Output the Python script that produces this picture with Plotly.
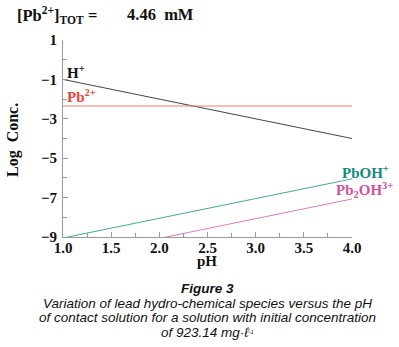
import plotly.graph_objects as go

# Data
ph = [1.0, 4.0]
log_h = [-1.0, -4.0]
log_pb = [-2.35, -2.35]
log_pboh = [-9.05, -6.05]
log_pb2oh = [-10.07, -7.07]

series_names = ["H<sup>+</sup>", "Pb<sup>2+</sup>", "PbOH<sup>+</sup>", "Pb<sub>2</sub>OH<sup>3+</sup>"]
x_ticks = [1.0, 1.5, 2.0, 2.5, 3.0, 3.5, 4.0]
y_ticks = [1, -1, -3, -5, -7, -9]

SERIF = "Liberation Serif"
SANS = "Liberation Sans"

line_colors = ["#444444", "#f07a6a", "#40aa9a", "#e27ab8"]
label_colors = ["#111111", "#f0403a", "#128a80", "#d4509c"]

PL, PR, PT, PB = 63, 352, 40, 237  # plot box in page pixels
W, H = 399, 347


def px_x(p):
    return (p - PL) / (PR - PL)


def px_y(p):
    return (PB - p) / (PB - PT)


fig = go.Figure()
for yv, c in zip([log_h, log_pb, log_pboh, log_pb2oh], line_colors):
    fig.add_trace(go.Scatter(x=ph, y=yv, mode="lines",
                             line=dict(color=c, width=1), showlegend=False,
                             hoverinfo="skip"))

# Series labels (paper coordinates so labels beyond the axis end still show)
label_pos = [(65, 72, "left"), (65, 96, "left"), (365, 172, "center"), (364, 190, "center")]
for (lx, ly, anc), name, col in zip(label_pos, series_names, label_colors):
    fig.add_annotation(x=px_x(lx), y=px_y(ly), xref="paper", yref="paper", text=name, showarrow=False,
                       xanchor=anc, yanchor="middle",
                       font=dict(family=SERIF, size=15, color=col, weight="bold"))

# Top title
fig.add_annotation(x=px_x(15), y=px_y(15), xref="paper", yref="paper", xanchor="left", yanchor="middle",
                   text="[Pb<sup>2+</sup>]<sub>TOT</sub> =", showarrow=False,
                   font=dict(family=SERIF, size=16.5, color="#111111", weight="bold"))
fig.add_annotation(x=px_x(125), y=px_y(15), xref="paper", yref="paper", xanchor="left", yanchor="middle",
                   text="4.46  mM", showarrow=False,
                   font=dict(family=SERIF, size=16.5, color="#111111", weight="bold"))

# Axis titles
fig.add_annotation(x=px_x(207), y=px_y(261), xref="paper", yref="paper", text="pH", showarrow=False,
                   xanchor="center", yanchor="middle",
                   font=dict(family=SERIF, size=15, color="#111111", weight="bold"))
fig.add_annotation(x=px_x(13), y=px_y(140), xref="paper", yref="paper", text="Log  Conc.", showarrow=False,
                   textangle=-90, xanchor="center", yanchor="middle",
                   font=dict(family=SERIF, size=16, color="#111111", weight="bold"))

# Caption
cap_lines = [
    ("<b><i>Figure 3</i></b>", 288),
    ("<i>Variation of lead hydro-chemical species versus the pH</i>", 303),
    ("<i>of contact solution for a solution with initial concentration</i>", 317),
    ("<i>of 923.14 mg·ℓ<span style='font-size:8px'><sup>-1</sup></span></i>", 332),
]
for txt, py in cap_lines:
    fig.add_annotation(x=0.5, y=px_y(py), xref="paper", yref="paper", text=txt, showarrow=False,
                       xanchor="center", yanchor="middle",
                       font=dict(family=SANS, size=13.5, color="#111111"))

fig.update_layout(
    width=W, height=H,
    margin=dict(l=PL, r=W - PR, t=PT, b=H - PB),
    paper_bgcolor="white", plot_bgcolor="white",
    showlegend=False,
    xaxis=dict(range=[1.0, 4.0], tickvals=x_ticks, tickformat=".1f",
               showgrid=False, zeroline=False, showline=True, linecolor="#9a9a9a", linewidth=1,
               ticks="inside", ticklen=5, tickcolor="#9a9a9a", ticklabelstandoff=-3,
               minor=dict(dtick=0.25, tick0=1.0, ticks="inside", ticklen=4, tickcolor="#9a9a9a", showgrid=False),
               tickfont=dict(family=SERIF, size=15, color="#111111", weight="bold")),
    yaxis=dict(range=[-9, 1], tickvals=y_ticks,
               showgrid=False, zeroline=False, showline=True, linecolor="#9a9a9a", linewidth=1,
               ticks="inside", ticklen=5, tickcolor="#9a9a9a", ticklabelstandoff=2,
               minor=dict(dtick=1, tick0=0, ticks="inside", ticklen=4, tickcolor="#9a9a9a", showgrid=False),
               tickfont=dict(family=SERIF, size=15, color="#111111", weight="bold")),
)

fig.write_html("out.html", config={"displayModeBar": False},
               post_script="document.body.style.margin='0';document.body.style.overflow='hidden';")
